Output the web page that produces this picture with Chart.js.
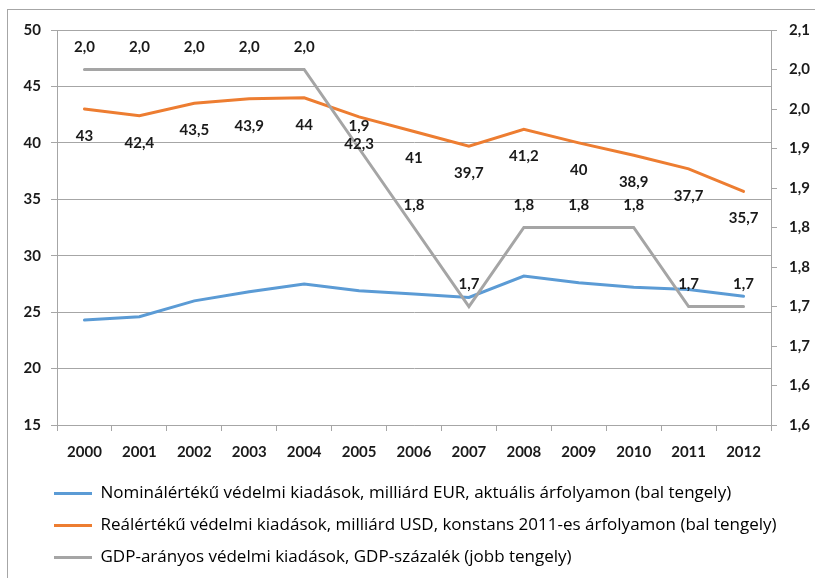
<!DOCTYPE html>
<html>
<head>
<meta charset="utf-8">
<script src="https://cdn.jsdelivr.net/npm/chart.js@4"></script>
<style>
  html, body { margin: 0; padding: 0; background: #fff; overflow: hidden; }
  #wrap { position: relative; width: 815px; height: 578px; }
  #frame { position: absolute; left: 7px; top: 9px; width: 830px; height: 620px; border: 1px solid #a6a6a6; box-sizing: border-box; }
  canvas { position: absolute; left: 0; top: 0; }
</style>
</head>
<body>
<div id="wrap">
  <div id="frame"></div>
  <canvas id="chart" width="815" height="578"></canvas>
</div>
<script>
const years = ['2000', '2001', '2002', '2003', '2004', '2005', '2006', '2007', '2008', '2009', '2010', '2011', '2012'];

// bal tengely
const nominalEur = [24.3, 24.6, 26.0, 26.8, 27.5, 26.9, 26.6, 26.3, 28.2, 27.6, 27.2, 27.0, 26.4];
const realUsd = [43, 42.4, 43.5, 43.9, 44, 42.3, 41, 39.7, 41.2, 40, 38.9, 37.7, 35.7];
// jobb tengely
const gdpShare = [2.05, 2.05, 2.05, 2.05, 2.05, 1.95, 1.85, 1.75, 1.85, 1.85, 1.85, 1.75, 1.75];
const gdpLabels = ['2,0', '2,0', '2,0', '2,0', '2,0', '1,9', '1,8', '1,7', '1,8', '1,8', '1,8', '1,7', '1,7'];

const rightTicks = [1.6, 1.65, 1.7, 1.75, 1.8, 1.85, 1.9, 1.95, 2.0, 2.05, 2.1];
const rightTickLabels = ['1,6', '1,6', '1,7', '1,7', '1,8', '1,8', '1,9', '1,9', '2,0', '2,0', '2,1'];

const legendNames = [
  'Nominálértékű védelmi kiadások, milliárd EUR, aktuális árfolyamon (bal tengely)',
  'Reálértékű védelmi kiadások, milliárd USD, konstans 2011-es árfolyamon (bal tengely)',
  'GDP-arányos védelmi kiadások, GDP-százalék (jobb tengely)'
];
const seriesColors = ['#5b9bd5', '#ed7d31', '#a5a5a5'];

const gridGray = '#a6a6a6';
const textCol = '#1a1a1a';

// értékcímkék kirajzolása
const valueLabels = {
  id: 'valueLabels',
  afterLayout(chart) {
    // jelmagyarázat beljebb tolása
    chart.legend.left = 39;
  },
  afterDatasetsDraw(chart) {
    const ctx = chart.ctx;
    ctx.save();
    ctx.font = 'bold 15px Lato';
    ctx.fillStyle = textCol;
    ctx.textAlign = 'center';
    ctx.textBaseline = 'middle';
    chart.getDatasetMeta(1).data.forEach((pt, i) => {
      ctx.fillText(String(realUsd[i]).replace('.', ','), pt.x, pt.y + 27);
    });
    chart.getDatasetMeta(2).data.forEach((pt, i) => {
      ctx.fillText(gdpLabels[i], pt.x, pt.y - 22);
    });
    ctx.restore();
  }
};

new Chart(document.getElementById('chart').getContext('2d'), {
  type: 'line',
  data: {
    labels: years,
    datasets: [
      { label: legendNames[0], data: nominalEur, yAxisID: 'y', borderColor: seriesColors[0], backgroundColor: seriesColors[0], order: 2 },
      { label: legendNames[1], data: realUsd, yAxisID: 'y', borderColor: seriesColors[1], backgroundColor: seriesColors[1], order: 1 },
      { label: legendNames[2], data: gdpShare, yAxisID: 'y2', borderColor: seriesColors[2], backgroundColor: seriesColors[2], order: 0 }
    ]
  },
  options: {
    responsive: false,
    animation: false,
    layout: { padding: { left: 0, right: 0, top: 30, bottom: 2 } },
    elements: {
      line: { borderWidth: 3, tension: 0, borderCapStyle: 'round' },
      point: { radius: 0, hoverRadius: 0 }
    },
    scales: {
      x: {
        offset: true,
        grid: { offset: true, drawOnChartArea: false, color: gridGray, tickLength: 6 },
        border: { color: gridGray },
        ticks: { color: textCol, font: { family: 'Lato', size: 15, weight: 'bold' }, padding: 12, maxRotation: 0, autoSkip: false },
        afterFit(scale) { scale.height = 45; }
      },
      y: {
        position: 'left',
        min: 15,
        max: 50,
        ticks: { stepSize: 5, color: textCol, font: { family: 'Lato', size: 15, weight: 'bold' }, padding: 10 },
        grid: { color: gridGray, tickLength: 6 },
        border: { color: gridGray },
        afterFit(scale) { scale.width = 57; }
      },
      y2: {
        position: 'right',
        min: 1.6,
        max: 2.1,
        afterBuildTicks(scale) { scale.ticks = rightTicks.map(v => ({ value: v })); },
        ticks: {
          color: textCol,
          font: { family: 'Lato', size: 15, weight: 'bold' },
          padding: 12,
          callback: (v, i) => rightTickLabels[i]
        },
        grid: { drawOnChartArea: false, color: gridGray, tickLength: 6 },
        border: { color: gridGray },
        afterFit(scale) { scale.width = 44; }
      }
    },
    plugins: {
      tooltip: { enabled: false },
      legend: {
        position: 'bottom',
        align: 'start',
        labels: {
          usePointStyle: true,
          pointStyleWidth: 38,
          padding: 15,
          color: '#111',
          font: { family: 'Open Sans', size: 17 },
          generateLabels: () => legendNames.map((name, i) => ({
            text: name,
            datasetIndex: i,
            fillStyle: seriesColors[i],
            strokeStyle: seriesColors[i],
            lineWidth: 3,
            pointStyle: 'line',
            hidden: false
          }))
        }
      }
    }
  },
  plugins: [valueLabels]
});
</script>
</body>
</html>
